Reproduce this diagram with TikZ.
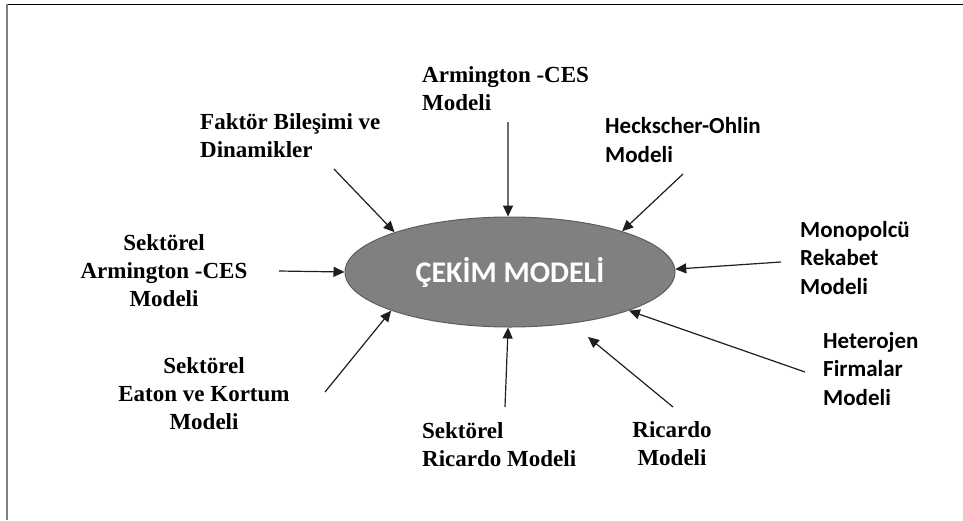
\documentclass[tikz,border=0pt]{standalone}
\usepackage{fontspec}
\setmainfont{Liberation Serif}
\newfontfamily\labelsans{Carlito}
\usetikzlibrary{arrows.meta,shapes.geometric}
\definecolor{ellfill}{HTML}{808080}
\definecolor{elldraw}{HTML}{5E5E5E}
\definecolor{inkline}{HTML}{1E1E1E}
\tikzset{
  serifbox/.style={inner sep=0pt, font=\fontsize{23}{28}\selectfont\bfseries, text=black},
  sansbox/.style={inner sep=0pt, font=\fontsize{23}{28.5}\selectfont\labelsans\bfseries, text=black},
  feed/.style={draw=inkline, line width=1.2pt, -{Triangle[length=11pt,width=10pt]}},
}
\begin{document}
\begin{tikzpicture}[x=1pt,y=-1pt]
\useasboundingbox (0,0) rectangle (963,520);
% partial frame
\draw[line width=1.6pt, black] (6.5,4.5) -- (963,4.5);
\draw[line width=2.2pt, ellfill] (7,4) -- (7,520);

% central model
\node[ellipse, draw=elldraw, line width=1pt, fill=ellfill,
      minimum width=330pt, minimum height=110pt, inner sep=0pt,
      text=white, font=\fontsize{30}{34}\selectfont\labelsans\bfseries]
  (ell) at (510,272) {ÇEKİM MODELİ};

% surrounding models
\node[serifbox, anchor=west, align=left] (arm) at (422,89) {Armington -CES\\Modeli};
\node[serifbox, anchor=west, align=left] (fak) at (200,136) {Faktör Bileşimi ve\\Dinamikler};
\node[sansbox, anchor=west, align=left] (hec) at (605,140) {Heckscher-Ohlin\\Modeli};
\node[sansbox, anchor=west, align=left] (mon) at (800,258) {Monopolcü\\Rekabet\\Modeli};
\node[sansbox, anchor=west, align=left] (het) at (823,369) {Heterojen\\Firmalar\\Modeli};
\node[serifbox, align=center] (sarm) at (164,271) {Sektörel\\Armington -CES\\Modeli};
\node[serifbox, align=center] (eat) at (204,394) {Sektörel\\Eaton ve Kortum\\Modeli};
\node[serifbox, anchor=west, align=left] (sric) at (422,445) {Sektörel\\Ricardo Modeli};
\node[serifbox, align=center] (ric) at (672,444) {Ricardo\\Modeli};

% arrow tails
\coordinate (armT) at (508,122);
\coordinate (fakT) at (334,169);
\coordinate (hecT) at (683,174);
\coordinate (monT) at (781,262);
\coordinate (hetT) at (805,372);
\coordinate (ricT) at (673,407);
\coordinate (sricT) at (505,407);
\coordinate (eatT) at (325,392);
\coordinate (sarmT) at (279,271);
\coordinate (ricH) at (588,337);

% arrows into the centre
\draw[feed] (armT) -- (ell.92);
\draw[feed] (fakT) -- (ell.161);
\draw[feed] (hecT) -- (ell.20);
\draw[feed] (monT) -- (ell.1.5);
\draw[feed] (hetT) -- (ell.-18.5);
\draw[feed] (ricT) -- (ricH);
\draw[feed] (sricT) -- (ell.-92);
\draw[feed] (eatT) -- (ell.198.5);
\draw[feed] (sarmT) -- (ell.180);
\end{tikzpicture}
\end{document}
